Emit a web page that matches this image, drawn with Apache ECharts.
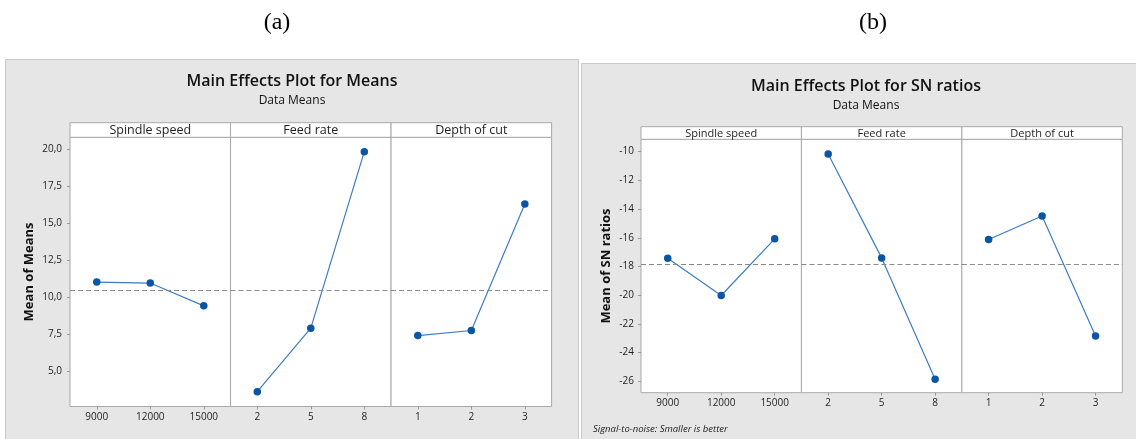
<!DOCTYPE html>
<html>
<head>
<meta charset="utf-8">
<script src="https://cdn.jsdelivr.net/npm/echarts@6/dist/echarts.min.js"></script>
<style>
  html, body { margin: 0; padding: 0; background: #ffffff; }
  #chart { width: 1136px; height: 439px; }
</style>
</head>
<body>
<div id="chart"></div>
<script>
// Factors and their levels
const factorNames = ['Spindle speed', 'Feed rate', 'Depth of cut'];
const speedLevels = ['9000', '12000', '15000'];
const feedLevels = ['2', '5', '8'];
const depthLevels = ['1', '2', '3'];

// (a) mean of means for each factor level
const meansSpeed = [11.02, 10.95, 9.41];
const meansFeed = [3.60, 7.90, 19.84];
const meansDepth = [7.40, 7.74, 16.30];

// (b) mean of SN ratios for each factor level (smaller is better)
const snSpeed = [-17.42, -20.02, -16.07];
const snFeed = [-10.17, -17.40, -25.85];
const snDepth = [-16.12, -14.48, -22.84];

// Tick labels
const meansTicks = [5, 7.5, 10, 12.5, 15, 17.5, 20];
const snTicks = [-26, -24, -22, -20, -18, -16, -14, -12, -10];

const FONT = 'Open Sans';
const TEXT = '#1e1e1e';
const BORDER = '#a9a9a9';

const levels = [speedLevels, feedLevels, depthLevels];

const plots = [
  {
    values: [meansSpeed, meansFeed, meansDepth],
    ticks: meansTicks,
    fmt: v => v.toFixed(1).replace('.', ','),
    left: 70, top: 137.3, width: 481.6, height: 269.2, stripH: 14.6,
    yMin: 2.60, yMax: 20.81,
    yName: 'Mean of Means', nameGap: 34, labelMargin: 8, xMargin: 6,
    stripFont: 12.5
  },
  {
    values: [snSpeed, snFeed, snDepth],
    ticks: snTicks,
    fmt: v => String(v),
    left: 641, top: 139.3, width: 481.3, height: 253.4, stripH: 12.6,
    yMin: -26.79, yMax: -9.14,
    yName: 'Mean of SN ratios', nameGap: 28, labelMargin: 7, xMargin: 5,
    stripFont: 11
  }
];

const grids = [], xAxes = [], yAxes = [], series = [], graphics = [];

// panel backgrounds
graphics.push({ type: 'rect', z: -100, shape: { x: 5.5, y: 59.5, width: 573, height: 390 },
  style: { fill: '#e6e6e6', stroke: '#c8c8c8', lineWidth: 1 } });
graphics.push({ type: 'rect', z: -100, shape: { x: 581.5, y: 63.5, width: 570, height: 390 },
  style: { fill: '#e6e6e6', stroke: '#c8c8c8', lineWidth: 1 } });

plots.forEach((p, pi) => {
  const all = [].concat(...p.values);
  const grandMean = all.reduce((s, v) => s + v, 0) / all.length;
  const w = p.width / 3;
  for (let k = 0; k < 3; k++) {
    const idx = grids.length;
    const gl = p.left + k * w;
    grids.push({
      left: gl, top: p.top, width: w, height: p.height,
      show: true, backgroundColor: '#ffffff', borderColor: BORDER, borderWidth: 1,
      containLabel: false
    });
    // strip header with the factor name
    graphics.push({ type: 'rect', z: 1,
      shape: { x: gl, y: p.top - p.stripH, width: w, height: p.stripH },
      style: { fill: '#ffffff', stroke: BORDER, lineWidth: 1 } });
    graphics.push({ type: 'text', z: 2, x: gl + w / 2, y: p.top - p.stripH / 2 + 0.5,
      style: { text: factorNames[k], font: `${p.stripFont}px "${FONT}"`, fill: TEXT,
        textAlign: 'center', textVerticalAlign: 'middle' } });

    xAxes.push({
      type: 'category', gridIndex: idx, data: levels[k], boundaryGap: true,
      axisLine: { show: false },
      axisTick: { show: true, alignWithLabel: true, length: 3, lineStyle: { color: '#9a9a9a' } },
      axisLabel: { color: TEXT, fontFamily: FONT, fontSize: 10, margin: p.xMargin },
      splitLine: { show: false }
    });
    const first = k === 0;
    yAxes.push({
      type: 'value', gridIndex: idx, min: p.yMin, max: p.yMax,
      axisLine: { show: false },
      axisTick: { show: first, length: 3, lineStyle: { color: '#9a9a9a' }, customValues: p.ticks },
      axisLabel: { show: first, color: TEXT, fontFamily: FONT, fontSize: 10, margin: p.labelMargin,
        customValues: p.ticks, formatter: p.fmt },
      splitLine: { show: false },
      name: first ? p.yName : '', nameLocation: 'middle', nameGap: p.nameGap, nameRotate: 90,
      nameTextStyle: { fontFamily: FONT, fontSize: 13, fontWeight: 'bold', color: '#111' }
    });
    series.push({
      type: 'line', xAxisIndex: idx, yAxisIndex: idx, data: p.values[k],
      symbol: 'circle', symbolSize: 7.5,
      itemStyle: { color: '#0b55a3' },
      lineStyle: { color: '#3d7cc2', width: 1.2 },
      z: 3,
      markLine: {
        silent: true, symbol: ['none', 'none'], animation: false,
        label: { show: false },
        lineStyle: { type: [5, 3], color: '#8a8a8a', width: 1 },
        data: [{ yAxis: grandMean }]
      }
    });
  }
});

const titles = [
  { text: '(a)', left: 277, top: 11, textAlign: 'center', padding: 0,
    textStyle: { fontFamily: 'Liberation Serif', fontSize: 24, fontWeight: 'normal', color: '#000' } },
  { text: '(b)', left: 873, top: 11, textAlign: 'center', padding: 0,
    textStyle: { fontFamily: 'Liberation Serif', fontSize: 24, fontWeight: 'normal', color: '#000' } },
  { text: 'Main Effects Plot for Means', left: 292, top: 73, textAlign: 'center', padding: 0,
    textStyle: { fontFamily: FONT, fontSize: 16, fontWeight: 600, color: '#111' } },
  { text: 'Data Means', left: 292, top: 95, textAlign: 'center', padding: 0,
    textStyle: { fontFamily: FONT, fontSize: 12, fontWeight: 'normal', color: '#111' } },
  { text: 'Main Effects Plot for SN ratios', left: 866, top: 78, textAlign: 'center', padding: 0,
    textStyle: { fontFamily: FONT, fontSize: 16, fontWeight: 600, color: '#111' } },
  { text: 'Data Means', left: 866, top: 100, textAlign: 'center', padding: 0,
    textStyle: { fontFamily: FONT, fontSize: 12, fontWeight: 'normal', color: '#111' } },
  { text: 'Signal-to-noise: Smaller is better', left: 593, top: 424, padding: 0,
    textStyle: { fontFamily: FONT, fontSize: 9.5, fontStyle: 'italic', fontWeight: 'normal', color: '#222' } }
];

const chart = echarts.init(document.getElementById('chart'), null, { renderer: 'canvas' });
chart.setOption({
  animation: false,
  backgroundColor: '#ffffff',
  title: titles,
  grid: grids,
  xAxis: xAxes,
  yAxis: yAxes,
  series: series,
  graphic: graphics
});
</script>
</body>
</html>
